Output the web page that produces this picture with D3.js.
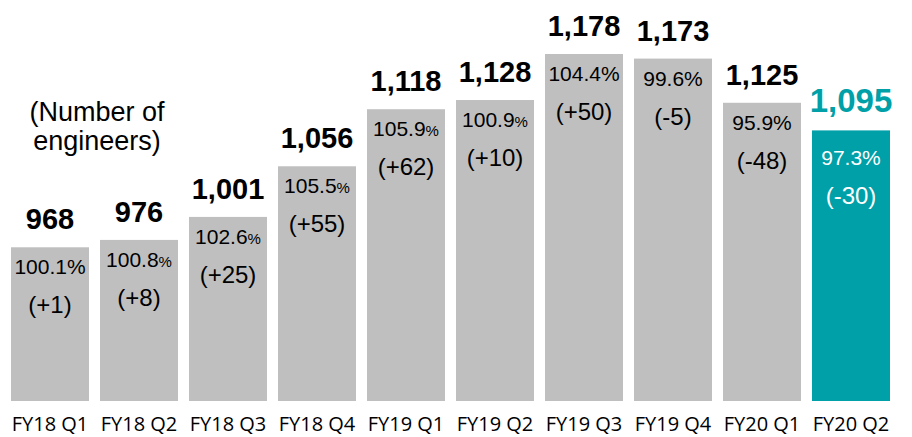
<!DOCTYPE html>
<html>
<head>
<meta charset="utf-8">
<script src="https://cdn.jsdelivr.net/npm/d3@7"></script>
<style>
  body { margin: 0; background: #fff; }
  svg { display: block; }
</style>
</head>
<body>
<div id="chartDiv"></div>
<script>
const quarters = ["FY18 Q1", "FY18 Q2", "FY18 Q3", "FY18 Q4", "FY19 Q1", "FY19 Q2", "FY19 Q3", "FY19 Q4", "FY20 Q1", "FY20 Q2"];
const engineers = [968, 976, 1001, 1056, 1118, 1128, 1178, 1173, 1125, 1095];
const yoyPct = ["100.1", "100.8", "102.6", "105.5", "105.9", "100.9", "104.4", "99.6", "95.9", "97.3"];
const yoyDiff = ["+1", "+8", "+25", "+55", "+62", "+10", "+50", "-5", "-48", "-30"];

const width = 912, height = 437;
const gray = "#bfbfbf", teal = "#00a0a8";
const last = quarters.length - 1;
// quarters where the percent sign is set smaller
const smallPct = new Set([1, 2, 3, 4, 5]);

const svgObj = d3.select("#chartDiv").append("svg")
    .attr("width", width)
    .attr("height", height);

const x = d3.scaleBand()
    .domain(quarters)
    .range([5.5, 895.5])
    .paddingInner(11 / 89)
    .paddingOuter(11 / 178);

const y = d3.scaleLinear()
    .domain([801, 1178])
    .range([401, 54]);

const fmt = d3.format(",");

const rows = quarters.map((q, i) => ({ q, i, v: engineers[i], pct: yoyPct[i], diff: yoyDiff[i] }));
const cx = d => x(d.q) + x.bandwidth() / 2;
// the highlighted (latest) bar has its labels sat a little lower
const inset = d => d.i === last ? 8 : 0;

// bars
svgObj.selectAll("rect.bar")
    .data(rows)
    .enter().append("rect")
    .attr("class", "bar")
    .attr("x", d => x(d.q))
    .attr("y", d => y(d.v))
    .attr("width", x.bandwidth())
    .attr("height", d => y.range()[0] - y(d.v))
    .attr("fill", d => d.i === last ? teal : gray);

// totals above bars
svgObj.selectAll("text.total")
    .data(rows)
    .enter().append("text")
    .attr("class", "total")
    .attr("x", cx)
    .attr("y", d => y(d.v) - 18)
    .attr("text-anchor", "middle")
    .attr("font-family", "Liberation Sans, Arial, sans-serif")
    .attr("font-weight", "bold")
    .attr("font-size", d => d.i === last ? 33 : 29)
    .attr("fill", d => d.i === last ? teal : "#000")
    .text(d => fmt(d.v));

// percent line
const pctText = svgObj.selectAll("text.pct")
    .data(rows)
    .enter().append("text")
    .attr("class", "pct")
    .attr("x", cx)
    .attr("y", d => y(d.v) + 27 + inset(d))
    .attr("text-anchor", "middle")
    .attr("font-family", "Liberation Sans, Arial, sans-serif")
    .attr("font-size", 21)
    .attr("fill", d => d.i === last ? "#fff" : "#000");
pctText.append("tspan").text(d => d.pct);
pctText.append("tspan")
    .attr("font-size", d => smallPct.has(d.i) ? 15 : 21)
    .text("%");

// difference line
svgObj.selectAll("text.diff")
    .data(rows)
    .enter().append("text")
    .attr("class", "diff")
    .attr("x", cx)
    .attr("y", d => y(d.v) + 66 + inset(d))
    .attr("text-anchor", "middle")
    .attr("font-family", "Liberation Sans, Arial, sans-serif")
    .attr("font-size", 24)
    .attr("fill", d => d.i === last ? "#fff" : "#000")
    .text(d => `(${d.diff})`);

// category axis
const xAxis = svgObj.append("g")
    .attr("transform", `translate(0,${y.range()[0]})`)
    .call(d3.axisBottom(x).tickSize(0).tickPadding(16));
xAxis.select(".domain").remove();
xAxis.selectAll("text")
    .attr("font-family", "Open Sans, sans-serif")
    .attr("font-size", 20)
    .attr("fill", "#000");

// unit note
const note = svgObj.append("text")
    .attr("text-anchor", "middle")
    .attr("font-family", "Liberation Sans, Arial, sans-serif")
    .attr("font-size", 27)
    .attr("fill", "#000");
note.append("tspan").attr("x", 97).attr("y", 121).text("(Number of");
note.append("tspan").attr("x", 97).attr("y", 150).text("engineers)");
</script>
</body>
</html>
